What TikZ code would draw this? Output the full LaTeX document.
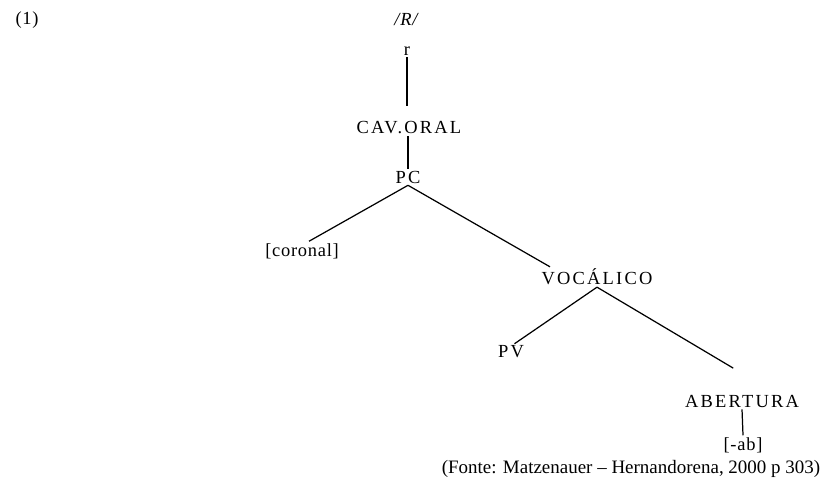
\documentclass[tikz,border=0pt]{standalone}
\usepackage{fontspec}
\setmainfont{Liberation Serif}
\newfontfamily\spaced[LetterSpace=12]{Liberation Serif}
\newfontfamily\wide[LetterSpace=4]{Liberation Serif}

\tikzset{
  feat/.style={inner sep=1pt, font=\fontsize{10.5}{12}\selectfont\spaced},
  plain/.style={inner sep=1pt, font=\fontsize{10.5}{12}\selectfont\wide},
  source/.style={inner sep=1pt, font=\fontsize{10.8}{12}\selectfont},
  branch/.style={black, line width=0.7}
}

\begin{document}
\begin{tikzpicture}[x=0.02cm, y=-0.02cm]

\useasboundingbox (0,0) rectangle (827,480);

\node[plain] (num) at (27,20) {(1)};
\node[plain] (phon) at (407,20) {\textit{/R/}};

\node[plain] (r) at (407,51) {r};
\node[feat] (cav) at (409,128) {CAV.ORAL};
\node[feat] (pc) at (408,177) {PC};
\node[plain] (cor) at (302,251) {[coronal]};
\node[feat] (voc) at (597,277) {VOCÁLICO};
\node[feat] (pv) at (511,352) {PV};
\node[feat] (abe) at (742,401) {ABERTURA};
\node[plain] (ab) at (743,445) {[-ab]};

\node[source] (src) at (631,469) {(Fonte: Matzenauer – Hernandorena, 2000 p 303)};

\draw[branch] (r.south) -- ([yshift=8pt]r.south |- cav.north);
\draw[branch] (cav.south -| pc) -- (pc.north);
\draw[branch] (pc.south) -- ([xshift=4pt]cor.north);
\draw[branch] (pc.south) -- ([xshift=6pt]voc.north west);
\draw[branch] (voc.south) -- ([xshift=2pt]pv.north);
\draw[branch] (voc.south) -- ([xshift=-5pt,yshift=14pt]abe.north);
\draw[branch] (abe.south) -- (ab.north);

\end{tikzpicture}
\end{document}
